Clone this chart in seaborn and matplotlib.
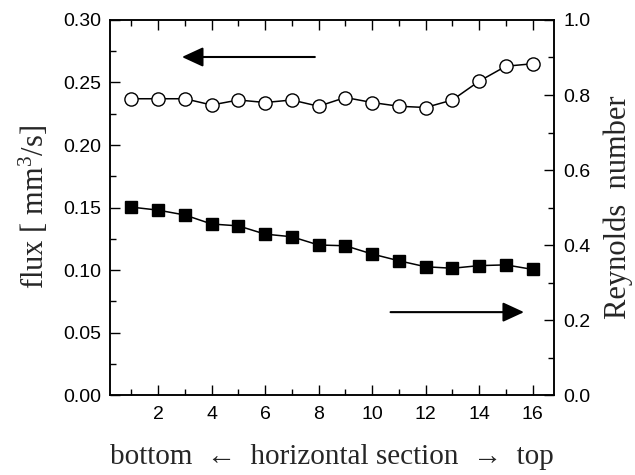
import numpy as np
import matplotlib
matplotlib.use("Agg")
import matplotlib.pyplot as plt
from matplotlib.ticker import FixedLocator, FormatStrFormatter
import seaborn as sns

# Horizontal section index (1 = bottom, 16 = top)
section = list(range(1, 17))
# Flux per section [mm^3/s] (left axis, open circles)
flux = [0.237, 0.237, 0.237, 0.232, 0.236, 0.234, 0.236, 0.231,
        0.238, 0.234, 0.231, 0.230, 0.236, 0.251, 0.263, 0.265]
# Reynolds number per section (right axis, filled squares)
reynolds = [0.501, 0.493, 0.480, 0.456, 0.451, 0.429, 0.422, 0.400,
            0.398, 0.376, 0.358, 0.342, 0.338, 0.345, 0.347, 0.335]

flux_ticks = [0.00, 0.05, 0.10, 0.15, 0.20, 0.25, 0.30]
re_ticks = [0.0, 0.2, 0.4, 0.6, 0.8, 1.0]
x_ticks = [2, 4, 6, 8, 10, 12, 14, 16]

sns.set_theme(style="ticks")
plt.rcParams["font.family"] = ["Liberation Sans", "DejaVu Sans"]
plt.rcParams["mathtext.fontset"] = "custom"
plt.rcParams["mathtext.rm"] = "Liberation Serif"
plt.rcParams["mathtext.it"] = "Liberation Serif:italic"

serif = ["Liberation Serif", "DejaVu Serif"]

fig = plt.figure(figsize=(6.35, 4.75), dpi=100)
ax = fig.add_axes([0.1732, 0.1684, 0.6992, 0.7895])
ax2 = ax.twinx()

sns.lineplot(x=section, y=flux, ax=ax, color="black", linewidth=1.1,
             marker="o", markersize=9.5, markerfacecolor="white",
             markeredgecolor="black", markeredgewidth=1.0, legend=False)
sns.lineplot(x=section, y=reynolds, ax=ax2, color="black", linewidth=1.1,
             marker="s", markersize=8.3, markerfacecolor="black",
             markeredgecolor="black", markeredgewidth=1.0, legend=False)

ax.set_xlim(0.2, 16.8)
ax.set_ylim(0, 0.30)
ax2.set_ylim(0, 1.0)

ax.xaxis.set_major_locator(FixedLocator(x_ticks))
ax.xaxis.set_minor_locator(FixedLocator(list(range(1, 17, 2))))
ax.yaxis.set_major_locator(FixedLocator(flux_ticks))
ax.yaxis.set_minor_locator(FixedLocator(list(np.arange(0.025, 0.3, 0.05))))
ax.yaxis.set_major_formatter(FormatStrFormatter("%.2f"))
ax2.yaxis.set_major_locator(FixedLocator(re_ticks))
ax2.yaxis.set_minor_locator(FixedLocator(list(np.arange(0.1, 1.0, 0.2))))
ax2.yaxis.set_major_formatter(FormatStrFormatter("%.1f"))

for a in (ax, ax2):
    for s in a.spines.values():
        s.set_linewidth(1.1)
        s.set_color("black")

ax.tick_params(axis="both", which="both", direction="in", colors="black",
               width=1.0, labelsize=14, top=True, right=False)
ax.tick_params(which="major", length=7)
ax.tick_params(which="minor", length=4)
ax.tick_params(axis="x", pad=8)
ax.tick_params(axis="y", pad=6)
ax2.tick_params(axis="y", which="both", direction="in", colors="black",
                width=1.0, labelsize=14, left=False, right=True, pad=7)
ax2.tick_params(which="major", length=7)
ax2.tick_params(which="minor", length=4)

ax.set_xlabel("bottom  \u2190  horizontal section  \u2192  top",
              family=serif, fontsize=21, labelpad=15)
ax.set_ylabel("flux [ mm$^{\\mathrm{3}}$/s]", family=serif, fontsize=22,
              labelpad=9)
ax2.set_ylabel("Reynolds  number", family=serif, fontsize=22, labelpad=9)

# Direction arrows pointing to each series' axis
arrow_style = dict(arrowstyle="-|>,head_length=0.65,head_width=0.3",
                   color="black", lw=1.5, mutation_scale=20,
                   shrinkA=0, shrinkB=0)
ax.annotate("", xy=(2.89, 0.2704), xytext=(7.86, 0.2704),
            arrowprops=arrow_style)
ax2.annotate("", xy=(15.68, 0.221), xytext=(10.69, 0.221),
             arrowprops=arrow_style)

fig.savefig("out.png", dpi=100, facecolor="white")
